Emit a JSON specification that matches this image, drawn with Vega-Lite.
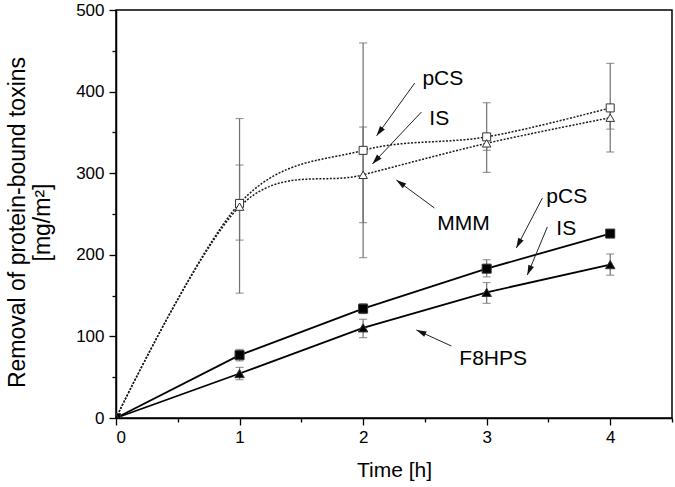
{
  "$schema": "https://vega.github.io/schema/vega-lite/v6.json",
  "width": 556,
  "height": 408,
  "autosize": "none",
  "padding": {"left": 116, "top": 10, "right": 3, "bottom": 69},
  "background": "white",
  "config": {
    "view": {"stroke": "black", "strokeWidth": 1.5},
    "font": "Liberation Sans"
  },
  "datasets": {
    "pts": [
      {"series": "MMM pCS", "t": 0, "v": 0},
      {"series": "MMM pCS", "t": 1, "v": 263},
      {"series": "MMM pCS", "t": 2, "v": 328},
      {"series": "MMM pCS", "t": 3, "v": 344.5},
      {"series": "MMM pCS", "t": 4, "v": 380},
      {"series": "MMM IS", "t": 0, "v": 0},
      {"series": "MMM IS", "t": 1, "v": 259},
      {"series": "MMM IS", "t": 2, "v": 298},
      {"series": "MMM IS", "t": 3, "v": 336.6},
      {"series": "MMM IS", "t": 4, "v": 368},
      {"series": "F8HPS pCS", "t": 0, "v": 0},
      {"series": "F8HPS pCS", "t": 1, "v": 77},
      {"series": "F8HPS pCS", "t": 2, "v": 134},
      {"series": "F8HPS pCS", "t": 3, "v": 183},
      {"series": "F8HPS pCS", "t": 4, "v": 226},
      {"series": "F8HPS IS", "t": 0, "v": 0},
      {"series": "F8HPS IS", "t": 1, "v": 54.5},
      {"series": "F8HPS IS", "t": 2, "v": 110.5},
      {"series": "F8HPS IS", "t": 3, "v": 154},
      {"series": "F8HPS IS", "t": 4, "v": 188}
    ],
    "err": [
      {"series": "MMM pCS", "t": 1, "lo": 218, "hi": 310},
      {"series": "MMM pCS", "t": 2, "lo": 196.5, "hi": 459.6},
      {"series": "MMM pCS", "t": 3, "lo": 301, "hi": 386.4},
      {"series": "MMM pCS", "t": 4, "lo": 326, "hi": 434.6},
      {"series": "MMM IS", "t": 1, "lo": 153, "hi": 367},
      {"series": "MMM IS", "t": 2, "lo": 239.4, "hi": 356.6},
      {"series": "MMM IS", "t": 3, "lo": 328, "hi": 345},
      {"series": "MMM IS", "t": 4, "lo": 354, "hi": 382},
      {"series": "F8HPS pCS", "t": 1, "lo": 70, "hi": 84},
      {"series": "F8HPS pCS", "t": 2, "lo": 128, "hi": 140},
      {"series": "F8HPS pCS", "t": 3, "lo": 173, "hi": 194},
      {"series": "F8HPS pCS", "t": 4, "lo": 223, "hi": 229},
      {"series": "F8HPS IS", "t": 1, "lo": 47, "hi": 62},
      {"series": "F8HPS IS", "t": 2, "lo": 98.5, "hi": 121},
      {"series": "F8HPS IS", "t": 3, "lo": 140.5, "hi": 166},
      {"series": "F8HPS IS", "t": 4, "lo": 175, "hi": 201}
    ],
    "arrows": [
      {"id": "a1", "x0": 2.418, "y0": 410.5, "x1": 2.109, "y1": 345.8},
      {"id": "a2", "x0": 2.472, "y0": 375, "x1": 2.075, "y1": 311.3},
      {"id": "a3", "x0": 2.577, "y0": 257.4, "x1": 2.269, "y1": 291.7},
      {"id": "a4", "x0": 3.451, "y0": 269.6, "x1": 3.24, "y1": 208.3},
      {"id": "a5", "x0": 3.491, "y0": 234.1, "x1": 3.329, "y1": 175.2},
      {"id": "a6", "x0": 2.714, "y0": 88.2, "x1": 2.431, "y1": 107.9}
    ],
    "labels": [
      {"label": "pCS", "x": 2.48, "y": 408},
      {"label": "IS", "x": 2.536, "y": 359},
      {"label": "MMM", "x": 2.601, "y": 230},
      {"label": "pCS", "x": 3.483, "y": 263},
      {"label": "IS", "x": 3.564, "y": 224},
      {"label": "F8HPS", "x": 2.779, "y": 65}
    ]
  },
  "encoding": {
    "x": {
      "field": "t", "type": "quantitative",
      "scale": {"domain": [0, 4.5], "nice": false, "zero": false},
      "axis": {
        "title": "Time [h]",
        "values": [0, 0.5, 1, 1.5, 2, 2.5, 3, 3.5, 4, 4.5],
        "labelExpr": "datum.value % 1 === 0 ? '' + datum.value : ''",
        "grid": false,
        "domainColor": "black", "domainWidth": 1.5,
        "tickColor": "black", "tickWidth": 1.3,
        "tickSize": {"condition": {"test": "datum.value % 1 === 0", "value": 7}, "value": 4},
        "labelFontSize": 17, "labelColor": "black", "labelPadding": 4,
        "labelFont": "Liberation Sans",
        "titleFont": "Liberation Sans", "titleFontSize": 21, "titleFontWeight": "normal",
        "titleColor": "black", "titleBaseline": "alphabetic", "titleY": 58
      }
    },
    "y": {
      "field": "v", "type": "quantitative",
      "scale": {"domain": [0, 500], "nice": false},
      "axis": {
        "title": ["Removal of protein-bound toxins", "[mg/m²]"],
        "values": [0, 50, 100, 150, 200, 250, 300, 350, 400, 450, 500],
        "labelExpr": "datum.value % 100 === 0 ? '' + datum.value : ''",
        "grid": false,
        "domainColor": "black", "domainWidth": 1.5,
        "tickColor": "black", "tickWidth": 1.3,
        "tickSize": {"condition": {"test": "datum.value % 100 === 0", "value": 7}, "value": 4},
        "labelFontSize": 17, "labelColor": "black", "labelPadding": 5,
        "labelFont": "Liberation Sans",
        "titleFont": "Liberation Sans", "titleFontSize": 23, "titleFontWeight": "normal",
        "titleColor": "black", "titleBaseline": "alphabetic", "titleLineHeight": 25,
        "titleAlign": "center", "titleAnchor": "middle",
        "titleX": -92, "titleY": 212
      }
    }
  },
  "layer": [
    {
      "data": {"name": "err"},
      "mark": {"type": "rule", "color": "#707070", "strokeWidth": 1.2},
      "encoding": {
        "x": {"field": "t", "type": "quantitative"},
        "y": {"field": "lo", "type": "quantitative"},
        "y2": {"field": "hi"}
      }
    },
    {
      "data": {"name": "err"},
      "mark": {"type": "tick", "orient": "horizontal", "color": "#707070", "thickness": 1.2, "size": 8},
      "encoding": {
        "x": {"field": "t", "type": "quantitative"},
        "y": {"field": "lo", "type": "quantitative"}
      }
    },
    {
      "data": {"name": "err"},
      "mark": {"type": "tick", "orient": "horizontal", "color": "#707070", "thickness": 1.2, "size": 8},
      "encoding": {
        "x": {"field": "t", "type": "quantitative"},
        "y": {"field": "hi", "type": "quantitative"}
      }
    },
    {
      "data": {"name": "pts"},
      "transform": [{"filter": "indexof(datum.series, 'MMM') === 0"}],
      "mark": {"type": "line", "interpolate": "cardinal", "strokeDash": [2, 1.5], "strokeWidth": 1.5, "color": "#1a1a1a"},
      "encoding": {"detail": {"field": "series"}}
    },
    {
      "data": {"name": "pts"},
      "transform": [{"filter": "indexof(datum.series, 'F8HPS') === 0"}],
      "mark": {"type": "line", "strokeWidth": 1.8, "color": "black"},
      "encoding": {"detail": {"field": "series"}}
    },
    {
      "data": {"name": "pts"},
      "mark": {"type": "point", "filled": true, "stroke": "#333333", "strokeWidth": 1, "opacity": 1, "clip": true},
      "encoding": {
        "shape": {"field": "series", "type": "nominal", "legend": null,
          "scale": {"domain": ["MMM pCS", "MMM IS", "F8HPS pCS", "F8HPS IS"], "range": ["square", "triangle-up", "square", "triangle-up"]}},
        "fill": {"field": "series", "type": "nominal", "legend": null,
          "scale": {"domain": ["MMM pCS", "MMM IS", "F8HPS pCS", "F8HPS IS"], "range": ["white", "white", "black", "black"]}},
        "size": {"field": "series", "type": "nominal", "legend": null,
          "scale": {"domain": ["MMM pCS", "MMM IS", "F8HPS pCS", "F8HPS IS"], "range": [64, 90, 64, 90]}}
      }
    },
    {
      "data": {"name": "arrows"},
      "mark": {"type": "rule", "color": "#222222", "strokeWidth": 1},
      "encoding": {
        "x": {"field": "x0", "type": "quantitative"},
        "y": {"field": "y0", "type": "quantitative"},
        "x2": {"field": "x1"},
        "y2": {"field": "y1"}
      }
    },
    {
      "data": {"name": "arrows"},
      "transform": [{"filter": "datum.id === 'a1'"}],
      "mark": {"type": "point", "shape": "M0,0L-0.6,2L0.6,2Z", "size": 100, "filled": true, "color": "#111111", "opacity": 1, "angle": 216},
      "encoding": {"x": {"field": "x1", "type": "quantitative"}, "y": {"field": "y1", "type": "quantitative"}}
    },
    {
      "data": {"name": "arrows"},
      "transform": [{"filter": "datum.id === 'a2'"}],
      "mark": {"type": "point", "shape": "M0,0L-0.6,2L0.6,2Z", "size": 100, "filled": true, "color": "#111111", "opacity": 1, "angle": 223},
      "encoding": {"x": {"field": "x1", "type": "quantitative"}, "y": {"field": "y1", "type": "quantitative"}}
    },
    {
      "data": {"name": "arrows"},
      "transform": [{"filter": "datum.id === 'a3'"}],
      "mark": {"type": "point", "shape": "M0,0L-0.6,2L0.6,2Z", "size": 100, "filled": true, "color": "#111111", "opacity": 1, "angle": 306},
      "encoding": {"x": {"field": "x1", "type": "quantitative"}, "y": {"field": "y1", "type": "quantitative"}}
    },
    {
      "data": {"name": "arrows"},
      "transform": [{"filter": "datum.id === 'a4'"}],
      "mark": {"type": "point", "shape": "M0,0L-0.6,2L0.6,2Z", "size": 100, "filled": true, "color": "#111111", "opacity": 1, "angle": 207.5},
      "encoding": {"x": {"field": "x1", "type": "quantitative"}, "y": {"field": "y1", "type": "quantitative"}}
    },
    {
      "data": {"name": "arrows"},
      "transform": [{"filter": "datum.id === 'a5'"}],
      "mark": {"type": "point", "shape": "M0,0L-0.6,2L0.6,2Z", "size": 100, "filled": true, "color": "#111111", "opacity": 1, "angle": 202.6},
      "encoding": {"x": {"field": "x1", "type": "quantitative"}, "y": {"field": "y1", "type": "quantitative"}}
    },
    {
      "data": {"name": "arrows"},
      "transform": [{"filter": "datum.id === 'a6'"}],
      "mark": {"type": "point", "shape": "M0,0L-0.6,2L0.6,2Z", "size": 100, "filled": true, "color": "#111111", "opacity": 1, "angle": 294.6},
      "encoding": {"x": {"field": "x1", "type": "quantitative"}, "y": {"field": "y1", "type": "quantitative"}}
    },
    {
      "data": {"name": "labels"},
      "mark": {"type": "text", "align": "left", "baseline": "alphabetic", "fontSize": 21, "font": "Liberation Sans", "color": "black"},
      "encoding": {
        "x": {"field": "x", "type": "quantitative"},
        "y": {"field": "y", "type": "quantitative"},
        "text": {"field": "label"}
      }
    }
  ]
}
